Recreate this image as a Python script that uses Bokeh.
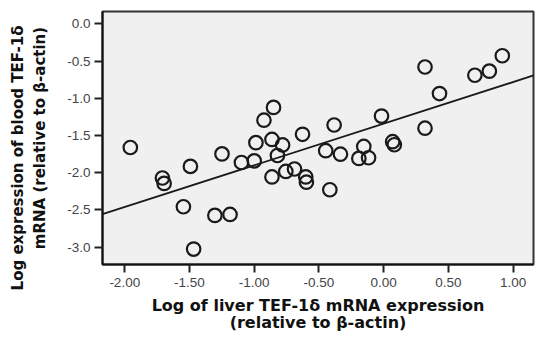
from bokeh.plotting import figure
from bokeh.models import Range1d, FixedTicker, NumeralTickFormatter, Title
from bokeh.embed import file_html
from bokeh.resources import INLINE

# Data
liver_log = [-1.957, -1.709, -1.696, -1.493, -1.547, -1.468, -1.304, -1.187,
             -1.249, -1.099, -1.000, -0.851, -0.925, -0.987, -0.863, -0.781,
             -0.821, -0.627, -0.863, -0.756, -0.689, -0.602, -0.597, -0.383,
             -0.448, -0.334, -0.416, -0.154, -0.192, -0.117, 0.069, 0.082,
             -0.017, 0.319, 0.431, 0.319, 0.704, 0.816, 0.916]
blood_log = [-1.660, -2.070, -2.143, -1.914, -2.457, -3.026, -2.573, -2.560,
             -1.746, -1.862, -1.840, -1.121, -1.293, -1.595, -1.552, -1.626,
             -1.768, -1.483, -2.056, -1.982, -1.949, -2.056, -2.127, -1.358,
             -1.703, -1.750, -2.228, -1.646, -1.807, -1.798, -1.582, -1.623,
             -1.238, -0.578, -0.935, -1.401, -0.689, -0.634, -0.427]
fit_slope = 0.56
fit_intercept = -1.34
x_ticks = [-2.0, -1.5, -1.0, -0.5, 0.0, 0.5, 1.0]
y_ticks = [0.0, -0.5, -1.0, -1.5, -2.0, -2.5, -3.0]
x_title = "Log of liver TEF-1\u03b4 mRNA expression\n(relative to \u03b2-actin)"
y_title_1 = "Log expression of blood TEF-1\u03b4"
y_title_2 = "mRNA (relative to \u03b2-actin)"

x_lo, x_hi = -2.172, 1.157
y_lo, y_hi = -3.233, 0.168

p = figure(width=535, height=334, output_backend="svg", toolbar_location=None,
           x_range=Range1d(x_lo, x_hi), y_range=Range1d(y_lo, y_hi),
           min_border_left=102, min_border_right=2, min_border_top=11,
           min_border_bottom=70)

p.background_fill_color = "#f0f0f0"
p.border_fill_color = "white"
p.outline_line_color = "#333333"
p.outline_line_width = 2
p.grid.visible = False

fx = [x_lo, x_hi]
fy = [fit_intercept + fit_slope * v for v in fx]
p.line(fx, fy, line_color="#1a1a1a", line_width=1.8)

p.scatter(liver_log, blood_log, marker="circle", size=13.5, fill_color=None,
          line_color="#1a1a1a", line_width=2.2)

for ax in (p.xaxis[0], p.yaxis[0]):
    ax.axis_line_color = "#111111"
    ax.axis_line_width = 2
    ax.major_tick_line_color = "#222222"
    ax.major_tick_line_width = 2
    ax.major_tick_out = 8
    ax.major_tick_in = 0
    ax.minor_tick_line_color = None
    ax.major_label_text_font = "Liberation Sans"
    ax.major_label_text_font_size = "13.5px"
    ax.major_label_text_color = "#444444"
    ax.axis_label_text_font = "DejaVu Sans"
    ax.axis_label_text_font_style = "bold"
    ax.axis_label_text_color = "#111111"

p.xaxis.ticker = FixedTicker(ticks=x_ticks)
p.yaxis.ticker = FixedTicker(ticks=y_ticks)
p.xaxis.formatter = NumeralTickFormatter(format="0.00")
p.yaxis.formatter = NumeralTickFormatter(format="0.0")
p.xaxis.major_label_standoff = 5
p.yaxis.major_label_standoff = 4

p.xaxis.axis_label = x_title
p.xaxis.axis_label_text_font_size = "16px"
p.xaxis.axis_label_text_line_height = 0.9
p.xaxis.axis_label_standoff = 6

p.yaxis.axis_label = y_title_2
p.yaxis.axis_label_text_font_size = "15px"
p.yaxis.axis_label_standoff = 15

t1 = Title(text=y_title_1, align="right", offset=14, standoff=4,
           text_font="DejaVu Sans", text_font_style="bold",
           text_font_size="15px", text_color="#111111")
p.add_layout(t1, "left")

open("out.html", "w").write(file_html(p, INLINE))
